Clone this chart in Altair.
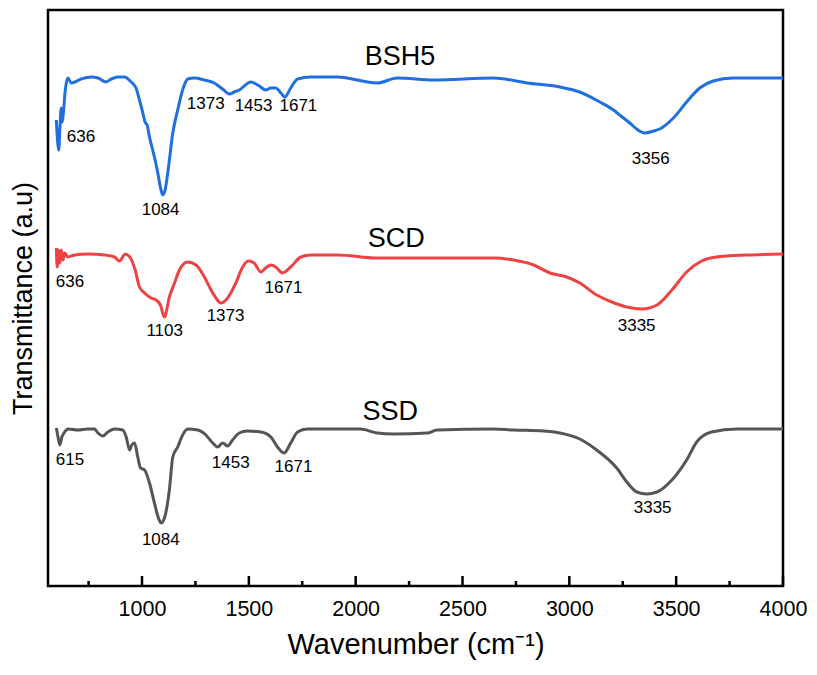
import altair as alt
import pandas as pd

# ---- BSH5 (blue) ----
bsh5_wn = [599, 610, 616, 622, 627, 633, 641, 653, 669, 716, 762, 794, 832, 848, 887, 918, 949, 972, 988,
           1004, 1014, 1024, 1035, 1050, 1058, 1074, 1086, 1097, 1108, 1124, 1144, 1167, 1190, 1214, 1245,
           1292, 1338, 1377, 1409, 1432, 1455, 1509, 1549, 1579, 1603, 1626, 1650, 1668, 1696, 1728, 1790,
           1914, 2101, 2195, 2366, 2646, 2802, 2956, 3049, 3143, 3207, 3253, 3283, 3315, 3353, 3395, 3423,
           3487, 3549, 3610, 3673, 3767, 4000]
bsh5_t = [466, 436, 459, 478, 464, 476, 496, 508, 503, 507, 509, 508, 504, 506, 509, 509, 504, 498, 486,
          473, 464, 461, 449, 436, 429, 413, 399, 391, 396, 419, 453, 476, 496, 507, 508,
          506, 503, 497, 492, 494, 496, 504, 500, 496, 498, 498, 493, 489, 498, 507, 509,
          509, 503, 508, 506, 508, 503, 499, 494, 484, 476, 468, 463, 457, 453, 455, 457,
          468, 484, 498, 505, 508, 508]

# ---- SCD (red) ----
scd_wn = [599, 603, 610, 616, 622, 630, 638, 653, 685, 747, 825, 871, 895, 921, 946, 968, 988, 1012, 1042,
          1066, 1086, 1105, 1128, 1152, 1175, 1214, 1253, 1292, 1323, 1346, 1369, 1401, 1439, 1471, 1497,
          1525, 1556, 1579, 1603, 1626, 1657, 1696, 1743, 1790, 1914, 2101, 2335, 2646, 2739, 2833, 2909,
          2988, 3049, 3128, 3199, 3269, 3340, 3410, 3480, 3549, 3619, 3689, 3829, 4000]
scd_t = [338, 319, 336, 323, 336, 326, 333, 329, 331, 332, 331, 329, 325, 332, 328, 316, 299, 293, 288,
         286, 281, 269, 289, 303, 316, 324, 321, 309, 296, 288, 283, 288, 303, 319, 325,
         323, 314, 318, 321, 319, 313, 319, 329, 331, 331, 328, 328, 328, 326, 321, 313,
         309, 303, 291, 284, 279, 277, 281, 296, 314, 325, 329, 331, 332]

# ---- SSD (grey) ----
ssd_wn = [599, 607, 615, 625, 638, 653, 700, 747, 778, 794, 817, 840, 871, 910, 926, 942, 952, 965, 980,
          993, 1012, 1035, 1058, 1077, 1089, 1105, 1128, 1144, 1167, 1190, 1214, 1261, 1299, 1331, 1354,
          1377, 1401, 1424, 1455, 1494, 1556, 1603, 1634, 1665, 1696, 1728, 1774, 1914, 2022, 2101, 2179,
          2335, 2381, 2646, 2739, 2880, 2956, 3049, 3128, 3222, 3269, 3316, 3362, 3410, 3480, 3549, 3596,
          3666, 3783, 4000]
ssd_t = [158, 149, 141, 149, 154, 157, 156, 157, 157, 153, 150, 154, 157, 156, 149, 136, 141, 143, 129,
         118, 116, 103, 83, 68, 63, 68, 96, 129, 139, 151, 157, 156, 151, 143, 139,
         143, 140, 146, 153, 155, 154, 149, 139, 133, 143, 154, 157, 157, 157, 153, 152,
         153, 156, 157, 156, 155, 153, 147, 136, 118, 104, 94, 92, 94, 106, 126, 144,
         154, 157, 157]

series_names = ["BSH5", "SCD", "SSD"]
series_colors = ["#1f6fdf", "#ef4242", "#555555"]

# ---- annotations ----
ann_text = ["BSH5", "SCD", "SSD"]
ann_wn = [2208, 2190, 2162]
ann_t = [529, 347, 174]

peak_text = ["636", "1084", "1373", "1453", "1671", "3356",
             "636", "1103", "1373", "1671", "3335",
             "615", "1084", "1453", "1671", "3335"]
peak_wn = [714, 1087, 1298, 1522, 1732, 3381,
           663, 1106, 1391, 1662, 3315,
           663, 1088, 1415, 1709, 3390]
peak_t = [449, 376, 482, 480, 480, 427,
          304, 255, 270, 298, 260,
          126, 46, 123, 119, 78]

major_ticks = [1000, 1500, 2000, 2500, 3000, 3500, 4000]
minor_ticks = [750, 1250, 1750, 2250, 2750, 3250, 3750]

rows = []
for name, wn, t in [("BSH5", bsh5_wn, bsh5_t), ("SCD", scd_wn, scd_t), ("SSD", ssd_wn, ssd_t)]:
    for i, (a, b) in enumerate(zip(wn, t)):
        rows.append({"series": name, "wn": a, "t": b, "order": i})
df = pd.DataFrame(rows)

df_ann = pd.DataFrame({"text": ann_text, "wn": ann_wn, "t": ann_t})
df_peak = pd.DataFrame({"text": peak_text, "wn": peak_wn, "t": peak_t})
df_major = pd.DataFrame({"wn": major_ticks})
df_minor = pd.DataFrame({"wn": minor_ticks})

W, H = 735, 576
FONT = "Liberation Sans"

xscale = alt.Scale(domain=[560, 4000], nice=False, zero=False)
yscale = alt.Scale(domain=[0, 576], nice=False, zero=False)

x_enc = alt.X("wn:Q", scale=xscale,
              axis=alt.Axis(title="Wavenumber (cm⁻¹)", values=major_ticks, ticks=False,
                            domain=False, grid=False, labelFontSize=21.5, labelPadding=12,
                            labelFlush=False, labelOverlap=False,
                            labelColor="#000000", labelFont=FONT, titleFont=FONT,
                            titleFontSize=29, titleFontWeight="normal", titleColor="#000000",
                            titlePadding=11, format="d"))
y_enc = alt.Y("t:Q", scale=yscale,
              axis=alt.Axis(title="Transmittance (a.u)", labels=False, ticks=False, domain=False,
                            grid=False, titleFont=FONT, titleFontSize=27,
                            titleFontWeight="normal", titleColor="#000000", titlePadding=11))

lines = alt.Chart(df).mark_line(strokeWidth=3, interpolate="monotone").encode(
    x=x_enc,
    y=y_enc,
    color=alt.Color("series:N", scale=alt.Scale(domain=series_names, range=series_colors),
                    legend=None),
    order="order:Q",
    detail="series:N",
)

ann = alt.Chart(df_ann).mark_text(fontSize=27, font=FONT, color="#000000").encode(
    x=alt.X("wn:Q", scale=xscale), y=alt.Y("t:Q", scale=yscale), text="text:N")

peaks = alt.Chart(df_peak).mark_text(fontSize=17, font=FONT, color="#000000").encode(
    x=alt.X("wn:Q", scale=xscale), y=alt.Y("t:Q", scale=yscale), text="text:N")

major = alt.Chart(df_major).mark_rule(strokeWidth=2.5, color="#000000").encode(
    x=alt.X("wn:Q", scale=xscale), y=alt.value(H), y2=alt.value(H - 10))

minor = alt.Chart(df_minor).mark_rule(strokeWidth=2.5, color="#000000").encode(
    x=alt.X("wn:Q", scale=xscale), y=alt.value(H), y2=alt.value(H - 5))

chart = alt.layer(lines, ann, peaks, major, minor).properties(
    width=W, height=H,
    autosize=alt.AutoSizeParams(type="none"),
    padding={"left": 40, "top": 2, "right": 26, "bottom": 80},
).configure_view(stroke="#000000", strokeWidth=2.5)

chart.save("out.html", embed_options={"renderer": "svg", "actions": False})
